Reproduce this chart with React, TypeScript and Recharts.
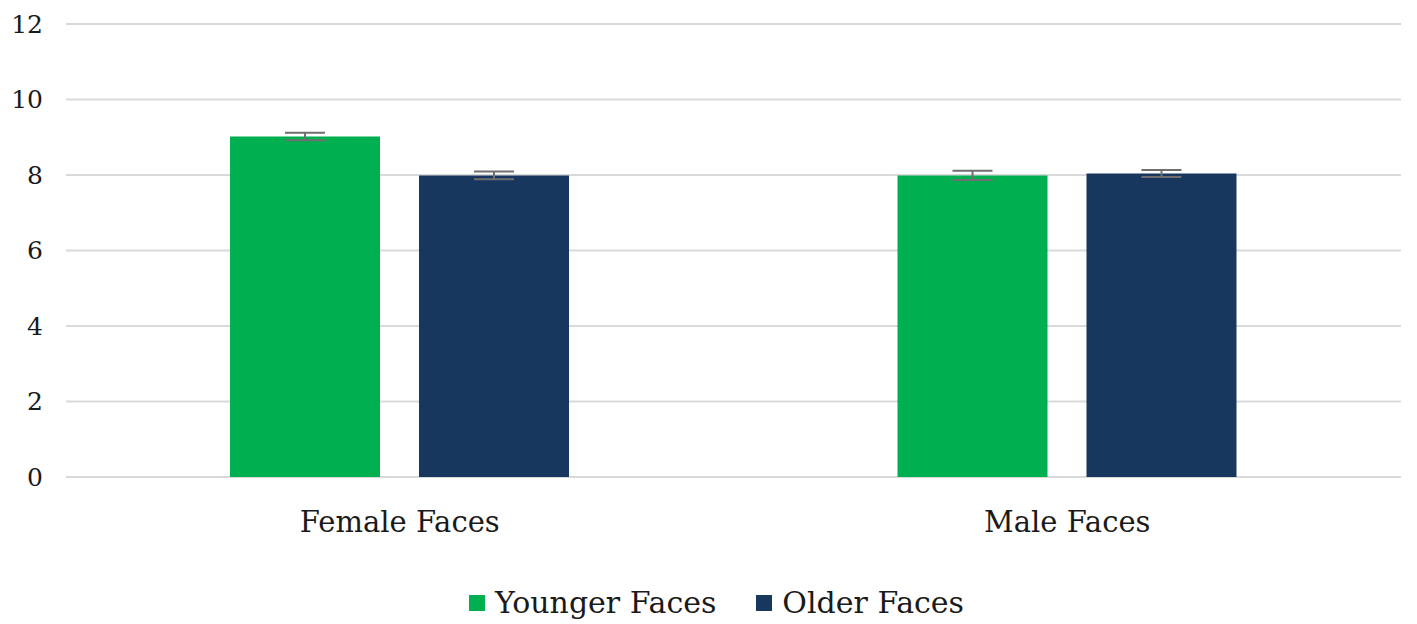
import { Bar, BarChart, CartesianGrid, ErrorBar, Legend, XAxis, YAxis } from "recharts";

const categories = ["Female Faces", "Male Faces"];
const youngerValues = [9.02, 7.99];
const olderValues = [7.99, 8.04];
const youngerErrors = [0.1, 0.12];
const olderErrors = [0.1, 0.09];
const yTicks = [0, 2, 4, 6, 8, 10, 12];

const GREEN = "#00b050";
const NAVY = "#17375e";
const FONT = "DejaVu Serif";

const data = categories.map((name, i) => ({
  name,
  younger: youngerValues[i],
  older: olderValues[i],
  youngerErr: youngerErrors[i],
  olderErr: olderErrors[i],
}));

function LegendContent() {
  const items = [
    { label: "Younger Faces", color: GREEN },
    { label: "Older Faces", color: NAVY },
  ];
  return (
    <div
      style={{
        height: 56,
        paddingTop: 14,
        paddingLeft: 24,
        boxSizing: "border-box",
        display: "flex",
        justifyContent: "center",
        gap: 40,
        fontFamily: FONT,
        fontSize: 30,
        lineHeight: "36px",
        color: "#1a1a1a",
      }}
    >
      {items.map((item) => (
        <span key={item.label} style={{ display: "flex", alignItems: "center" }}>
          <span style={{ width: 16, height: 16, background: item.color, marginRight: 10, display: "inline-block" }} />
          {item.label}
        </span>
      ))}
    </div>
  );
}

export default function App() {
  return (
    <BarChart
      width={1409}
      height={616}
      data={data}
      margin={{ top: 16, right: 16, bottom: 0, left: 0 }}
      barSize={150}
      barGap={39}
    >
      <CartesianGrid vertical={false} stroke="#d9d9d9" strokeWidth={2} />
      <XAxis
        dataKey="name"
        height={91}
        axisLine={false}
        tickLine={false}
        tickSize={0}
        tickMargin={34}
        tick={{ fill: "#1a1a1a", fontSize: 29, fontFamily: FONT }}
      />
      <YAxis
        width={58}
        domain={[0, 12]}
        ticks={yTicks}
        axisLine={false}
        tickLine={false}
        tickSize={0}
        tickMargin={23}
        tick={{ fill: "#1a1a1a", fontSize: 25, fontFamily: FONT }}
      />
      <Legend verticalAlign="bottom" content={<LegendContent />} />
      <Bar dataKey="younger" fill={GREEN} isAnimationActive={false}>
        <ErrorBar dataKey="youngerErr" width={20} stroke="#6f6f6f" strokeWidth={2} />
      </Bar>
      <Bar dataKey="older" fill={NAVY} isAnimationActive={false}>
        <ErrorBar dataKey="olderErr" width={20} stroke="#6f6f6f" strokeWidth={2} />
      </Bar>
    </BarChart>
  );
}
